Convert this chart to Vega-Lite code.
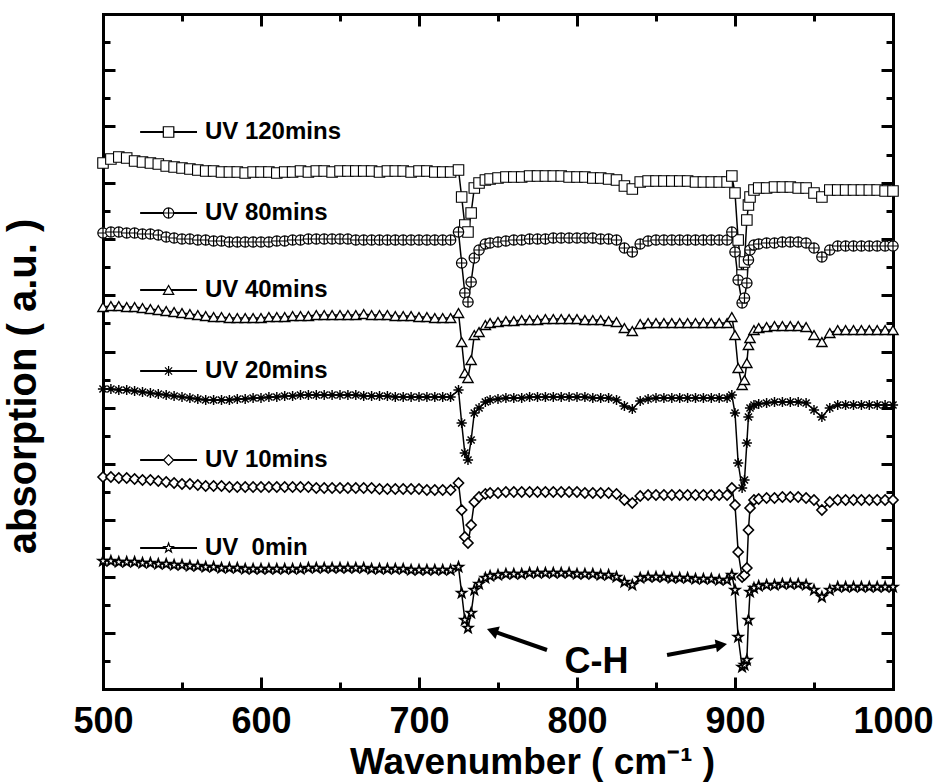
{
"$schema":"https://vega.github.io/schema/vega-lite/v6.json",
"width":790,"height":675,"autosize":"none",
"padding":{"left":103,"top":14,"right":44,"bottom":95},
"background":"white",
"config":{"view":{"stroke":null},"font":"Liberation Sans"},
"datasets":{
"spec":[
{"s":"UV 120mins","x":500,"y":526},{"s":"UV 120mins","x":505,"y":530},{"s":"UV 120mins","x":510,"y":532},{"s":"UV 120mins","x":515,"y":531},{"s":"UV 120mins","x":520,"y":528},{"s":"UV 120mins","x":525,"y":527},{"s":"UV 120mins","x":530,"y":526},{"s":"UV 120mins","x":535,"y":525},{"s":"UV 120mins","x":540,"y":523},{"s":"UV 120mins","x":545,"y":522},{"s":"UV 120mins","x":550,"y":521},{"s":"UV 120mins","x":555,"y":520},{"s":"UV 120mins","x":560,"y":519},{"s":"UV 120mins","x":565,"y":518},{"s":"UV 120mins","x":570,"y":518},{"s":"UV 120mins","x":575,"y":517},{"s":"UV 120mins","x":580,"y":517},{"s":"UV 120mins","x":585,"y":517},{"s":"UV 120mins","x":590,"y":516},{"s":"UV 120mins","x":595,"y":517},{"s":"UV 120mins","x":600,"y":517},{"s":"UV 120mins","x":605,"y":517},{"s":"UV 120mins","x":610,"y":516},{"s":"UV 120mins","x":615,"y":517},{"s":"UV 120mins","x":620,"y":517},{"s":"UV 120mins","x":625,"y":518},{"s":"UV 120mins","x":630,"y":517},{"s":"UV 120mins","x":635,"y":518},{"s":"UV 120mins","x":640,"y":518},{"s":"UV 120mins","x":645,"y":517},{"s":"UV 120mins","x":650,"y":518},{"s":"UV 120mins","x":655,"y":518},{"s":"UV 120mins","x":660,"y":518},{"s":"UV 120mins","x":665,"y":518},{"s":"UV 120mins","x":670,"y":518},{"s":"UV 120mins","x":675,"y":517},{"s":"UV 120mins","x":680,"y":518},{"s":"UV 120mins","x":685,"y":518},{"s":"UV 120mins","x":690,"y":518},{"s":"UV 120mins","x":695,"y":517},{"s":"UV 120mins","x":700,"y":518},{"s":"UV 120mins","x":705,"y":518},{"s":"UV 120mins","x":710,"y":517},{"s":"UV 120mins","x":715,"y":517},{"s":"UV 120mins","x":720,"y":517},
{"s":"UV 120mins","x":725,"y":519},{"s":"UV 120mins","x":727,"y":492},{"s":"UV 120mins","x":729,"y":464},{"s":"UV 120mins","x":731,"y":457},{"s":"UV 120mins","x":733,"y":476},{"s":"UV 120mins","x":735,"y":501},{"s":"UV 120mins","x":738,"y":506},{"s":"UV 120mins","x":742,"y":509},
{"s":"UV 120mins","x":745,"y":510},{"s":"UV 120mins","x":750,"y":511},{"s":"UV 120mins","x":755,"y":512},{"s":"UV 120mins","x":760,"y":512},{"s":"UV 120mins","x":765,"y":512},{"s":"UV 120mins","x":770,"y":513},{"s":"UV 120mins","x":775,"y":513},{"s":"UV 120mins","x":780,"y":513},{"s":"UV 120mins","x":785,"y":513},{"s":"UV 120mins","x":790,"y":513},{"s":"UV 120mins","x":795,"y":512},{"s":"UV 120mins","x":800,"y":512},{"s":"UV 120mins","x":805,"y":512},{"s":"UV 120mins","x":810,"y":511},{"s":"UV 120mins","x":815,"y":511},{"s":"UV 120mins","x":820,"y":510},{"s":"UV 120mins","x":825,"y":509},{"s":"UV 120mins","x":830,"y":503},{"s":"UV 120mins","x":835,"y":500},{"s":"UV 120mins","x":840,"y":507},{"s":"UV 120mins","x":845,"y":508},{"s":"UV 120mins","x":850,"y":508},{"s":"UV 120mins","x":855,"y":508},{"s":"UV 120mins","x":860,"y":508},{"s":"UV 120mins","x":865,"y":508},{"s":"UV 120mins","x":870,"y":508},{"s":"UV 120mins","x":875,"y":507},{"s":"UV 120mins","x":880,"y":507},{"s":"UV 120mins","x":885,"y":507},{"s":"UV 120mins","x":890,"y":507},{"s":"UV 120mins","x":895,"y":507},
{"s":"UV 120mins","x":898,"y":513},{"s":"UV 120mins","x":900,"y":496},{"s":"UV 120mins","x":902,"y":449},{"s":"UV 120mins","x":904.5,"y":414},{"s":"UV 120mins","x":906,"y":427},{"s":"UV 120mins","x":907.5,"y":469},{"s":"UV 120mins","x":908.5,"y":484},{"s":"UV 120mins","x":909.5,"y":492},{"s":"UV 120mins","x":912,"y":499},
{"s":"UV 120mins","x":915,"y":501},{"s":"UV 120mins","x":920,"y":501},{"s":"UV 120mins","x":925,"y":502},{"s":"UV 120mins","x":930,"y":502},{"s":"UV 120mins","x":935,"y":502},{"s":"UV 120mins","x":940,"y":501},{"s":"UV 120mins","x":945,"y":501},{"s":"UV 120mins","x":950,"y":496},{"s":"UV 120mins","x":955,"y":492},{"s":"UV 120mins","x":960,"y":499},{"s":"UV 120mins","x":965,"y":499},{"s":"UV 120mins","x":970,"y":499},{"s":"UV 120mins","x":975,"y":499},{"s":"UV 120mins","x":980,"y":499},{"s":"UV 120mins","x":985,"y":499},{"s":"UV 120mins","x":990,"y":499},{"s":"UV 120mins","x":995,"y":498},{"s":"UV 120mins","x":1000,"y":498},

{"s":"UV 80mins","x":500,"y":456},{"s":"UV 80mins","x":505,"y":457},{"s":"UV 80mins","x":510,"y":457},{"s":"UV 80mins","x":515,"y":456},{"s":"UV 80mins","x":520,"y":456},{"s":"UV 80mins","x":525,"y":455},{"s":"UV 80mins","x":530,"y":455},{"s":"UV 80mins","x":535,"y":454},{"s":"UV 80mins","x":540,"y":452},{"s":"UV 80mins","x":545,"y":451},{"s":"UV 80mins","x":550,"y":450},{"s":"UV 80mins","x":555,"y":450},{"s":"UV 80mins","x":560,"y":449},{"s":"UV 80mins","x":565,"y":449},{"s":"UV 80mins","x":570,"y":448},{"s":"UV 80mins","x":575,"y":448},{"s":"UV 80mins","x":580,"y":447},{"s":"UV 80mins","x":585,"y":447},{"s":"UV 80mins","x":590,"y":447},{"s":"UV 80mins","x":595,"y":447},{"s":"UV 80mins","x":600,"y":447},{"s":"UV 80mins","x":605,"y":447},{"s":"UV 80mins","x":610,"y":448},{"s":"UV 80mins","x":615,"y":448},{"s":"UV 80mins","x":620,"y":449},{"s":"UV 80mins","x":625,"y":449},{"s":"UV 80mins","x":630,"y":450},{"s":"UV 80mins","x":635,"y":450},{"s":"UV 80mins","x":640,"y":450},{"s":"UV 80mins","x":645,"y":450},{"s":"UV 80mins","x":650,"y":450},{"s":"UV 80mins","x":655,"y":450},{"s":"UV 80mins","x":660,"y":449},{"s":"UV 80mins","x":665,"y":449},{"s":"UV 80mins","x":670,"y":449},{"s":"UV 80mins","x":675,"y":449},{"s":"UV 80mins","x":680,"y":449},{"s":"UV 80mins","x":685,"y":449},{"s":"UV 80mins","x":690,"y":449},{"s":"UV 80mins","x":695,"y":449},{"s":"UV 80mins","x":700,"y":449},{"s":"UV 80mins","x":705,"y":449},{"s":"UV 80mins","x":710,"y":449},{"s":"UV 80mins","x":715,"y":449},{"s":"UV 80mins","x":720,"y":449},
{"s":"UV 80mins","x":725,"y":457},{"s":"UV 80mins","x":727,"y":426},{"s":"UV 80mins","x":729,"y":396},{"s":"UV 80mins","x":731,"y":387},{"s":"UV 80mins","x":733,"y":407},{"s":"UV 80mins","x":735,"y":431},{"s":"UV 80mins","x":738,"y":439},{"s":"UV 80mins","x":742,"y":445},
{"s":"UV 80mins","x":745,"y":446},{"s":"UV 80mins","x":750,"y":447},{"s":"UV 80mins","x":755,"y":448},{"s":"UV 80mins","x":760,"y":449},{"s":"UV 80mins","x":765,"y":449},{"s":"UV 80mins","x":770,"y":450},{"s":"UV 80mins","x":775,"y":450},{"s":"UV 80mins","x":780,"y":450},{"s":"UV 80mins","x":785,"y":451},{"s":"UV 80mins","x":790,"y":451},{"s":"UV 80mins","x":795,"y":451},{"s":"UV 80mins","x":800,"y":451},{"s":"UV 80mins","x":805,"y":451},{"s":"UV 80mins","x":810,"y":451},{"s":"UV 80mins","x":815,"y":450},{"s":"UV 80mins","x":820,"y":450},{"s":"UV 80mins","x":825,"y":449},{"s":"UV 80mins","x":830,"y":441},{"s":"UV 80mins","x":835,"y":437},{"s":"UV 80mins","x":840,"y":445},{"s":"UV 80mins","x":845,"y":448},{"s":"UV 80mins","x":850,"y":449},{"s":"UV 80mins","x":855,"y":449},{"s":"UV 80mins","x":860,"y":449},{"s":"UV 80mins","x":865,"y":449},{"s":"UV 80mins","x":870,"y":449},{"s":"UV 80mins","x":875,"y":449},{"s":"UV 80mins","x":880,"y":449},{"s":"UV 80mins","x":885,"y":449},{"s":"UV 80mins","x":890,"y":449},{"s":"UV 80mins","x":895,"y":449},
{"s":"UV 80mins","x":898,"y":457},{"s":"UV 80mins","x":900,"y":437},{"s":"UV 80mins","x":902,"y":409},{"s":"UV 80mins","x":904.5,"y":386},{"s":"UV 80mins","x":906,"y":391},{"s":"UV 80mins","x":907.5,"y":406},{"s":"UV 80mins","x":908.5,"y":429},{"s":"UV 80mins","x":909.5,"y":439},{"s":"UV 80mins","x":912,"y":444},
{"s":"UV 80mins","x":915,"y":445},{"s":"UV 80mins","x":920,"y":446},{"s":"UV 80mins","x":925,"y":446},{"s":"UV 80mins","x":930,"y":447},{"s":"UV 80mins","x":935,"y":447},{"s":"UV 80mins","x":940,"y":447},{"s":"UV 80mins","x":945,"y":446},{"s":"UV 80mins","x":950,"y":441},{"s":"UV 80mins","x":955,"y":432},{"s":"UV 80mins","x":960,"y":439},{"s":"UV 80mins","x":965,"y":443},{"s":"UV 80mins","x":970,"y":443},{"s":"UV 80mins","x":975,"y":443},{"s":"UV 80mins","x":980,"y":443},{"s":"UV 80mins","x":985,"y":443},{"s":"UV 80mins","x":990,"y":443},{"s":"UV 80mins","x":995,"y":443},{"s":"UV 80mins","x":1000,"y":443},

{"s":"UV 40mins","x":500,"y":382},{"s":"UV 40mins","x":505,"y":383},{"s":"UV 40mins","x":510,"y":383},{"s":"UV 40mins","x":515,"y":382},{"s":"UV 40mins","x":520,"y":382},{"s":"UV 40mins","x":525,"y":381},{"s":"UV 40mins","x":530,"y":380},{"s":"UV 40mins","x":535,"y":379},{"s":"UV 40mins","x":540,"y":378},{"s":"UV 40mins","x":545,"y":377},{"s":"UV 40mins","x":550,"y":376},{"s":"UV 40mins","x":555,"y":375},{"s":"UV 40mins","x":560,"y":374},{"s":"UV 40mins","x":565,"y":373},{"s":"UV 40mins","x":570,"y":372},{"s":"UV 40mins","x":575,"y":372},{"s":"UV 40mins","x":580,"y":371},{"s":"UV 40mins","x":585,"y":371},{"s":"UV 40mins","x":590,"y":371},{"s":"UV 40mins","x":595,"y":371},{"s":"UV 40mins","x":600,"y":371},{"s":"UV 40mins","x":605,"y":372},{"s":"UV 40mins","x":610,"y":372},{"s":"UV 40mins","x":615,"y":372},{"s":"UV 40mins","x":620,"y":373},{"s":"UV 40mins","x":625,"y":373},{"s":"UV 40mins","x":630,"y":373},{"s":"UV 40mins","x":635,"y":374},{"s":"UV 40mins","x":640,"y":374},{"s":"UV 40mins","x":645,"y":374},{"s":"UV 40mins","x":650,"y":374},{"s":"UV 40mins","x":655,"y":374},{"s":"UV 40mins","x":660,"y":374},{"s":"UV 40mins","x":665,"y":375},{"s":"UV 40mins","x":670,"y":374},{"s":"UV 40mins","x":675,"y":374},{"s":"UV 40mins","x":680,"y":374},{"s":"UV 40mins","x":685,"y":373},{"s":"UV 40mins","x":690,"y":373},{"s":"UV 40mins","x":695,"y":373},{"s":"UV 40mins","x":700,"y":372},{"s":"UV 40mins","x":705,"y":372},{"s":"UV 40mins","x":710,"y":371},{"s":"UV 40mins","x":715,"y":371},{"s":"UV 40mins","x":720,"y":371},
{"s":"UV 40mins","x":725,"y":376},{"s":"UV 40mins","x":727,"y":347},{"s":"UV 40mins","x":729,"y":316},{"s":"UV 40mins","x":731,"y":311},{"s":"UV 40mins","x":733,"y":329},{"s":"UV 40mins","x":735,"y":354},{"s":"UV 40mins","x":738,"y":357},{"s":"UV 40mins","x":742,"y":364},
{"s":"UV 40mins","x":745,"y":366},{"s":"UV 40mins","x":750,"y":367},{"s":"UV 40mins","x":755,"y":368},{"s":"UV 40mins","x":760,"y":368},{"s":"UV 40mins","x":765,"y":369},{"s":"UV 40mins","x":770,"y":369},{"s":"UV 40mins","x":775,"y":369},{"s":"UV 40mins","x":780,"y":370},{"s":"UV 40mins","x":785,"y":370},{"s":"UV 40mins","x":790,"y":370},{"s":"UV 40mins","x":795,"y":370},{"s":"UV 40mins","x":800,"y":370},{"s":"UV 40mins","x":805,"y":369},{"s":"UV 40mins","x":810,"y":369},{"s":"UV 40mins","x":815,"y":369},{"s":"UV 40mins","x":820,"y":368},{"s":"UV 40mins","x":825,"y":367},{"s":"UV 40mins","x":830,"y":361},{"s":"UV 40mins","x":835,"y":358},{"s":"UV 40mins","x":840,"y":365},{"s":"UV 40mins","x":845,"y":366},{"s":"UV 40mins","x":850,"y":366},{"s":"UV 40mins","x":855,"y":366},{"s":"UV 40mins","x":860,"y":366},{"s":"UV 40mins","x":865,"y":366},{"s":"UV 40mins","x":870,"y":366},{"s":"UV 40mins","x":875,"y":366},{"s":"UV 40mins","x":880,"y":366},{"s":"UV 40mins","x":885,"y":366},{"s":"UV 40mins","x":890,"y":366},{"s":"UV 40mins","x":895,"y":366},
{"s":"UV 40mins","x":898,"y":372},{"s":"UV 40mins","x":900,"y":354},{"s":"UV 40mins","x":902,"y":321},{"s":"UV 40mins","x":904.5,"y":304},{"s":"UV 40mins","x":906,"y":309},{"s":"UV 40mins","x":907.5,"y":326},{"s":"UV 40mins","x":908.5,"y":344},{"s":"UV 40mins","x":909.5,"y":351},{"s":"UV 40mins","x":912,"y":359},
{"s":"UV 40mins","x":915,"y":361},{"s":"UV 40mins","x":920,"y":362},{"s":"UV 40mins","x":925,"y":363},{"s":"UV 40mins","x":930,"y":363},{"s":"UV 40mins","x":935,"y":363},{"s":"UV 40mins","x":940,"y":363},{"s":"UV 40mins","x":945,"y":362},{"s":"UV 40mins","x":950,"y":354},{"s":"UV 40mins","x":955,"y":347},{"s":"UV 40mins","x":960,"y":356},{"s":"UV 40mins","x":965,"y":359},{"s":"UV 40mins","x":970,"y":359},{"s":"UV 40mins","x":975,"y":359},{"s":"UV 40mins","x":980,"y":359},{"s":"UV 40mins","x":985,"y":359},{"s":"UV 40mins","x":990,"y":359},{"s":"UV 40mins","x":995,"y":359},{"s":"UV 40mins","x":1000,"y":359},

{"s":"UV 20mins","x":500,"y":300},{"s":"UV 20mins","x":505,"y":300},{"s":"UV 20mins","x":510,"y":299},{"s":"UV 20mins","x":515,"y":299},{"s":"UV 20mins","x":520,"y":298},{"s":"UV 20mins","x":525,"y":297},{"s":"UV 20mins","x":530,"y":296},{"s":"UV 20mins","x":535,"y":295},{"s":"UV 20mins","x":540,"y":294},{"s":"UV 20mins","x":545,"y":293},{"s":"UV 20mins","x":550,"y":292},{"s":"UV 20mins","x":555,"y":291},{"s":"UV 20mins","x":560,"y":290},{"s":"UV 20mins","x":565,"y":289},{"s":"UV 20mins","x":570,"y":289},{"s":"UV 20mins","x":575,"y":289},{"s":"UV 20mins","x":580,"y":289},{"s":"UV 20mins","x":585,"y":290},{"s":"UV 20mins","x":590,"y":290},{"s":"UV 20mins","x":595,"y":291},{"s":"UV 20mins","x":600,"y":291},{"s":"UV 20mins","x":605,"y":292},{"s":"UV 20mins","x":610,"y":292},{"s":"UV 20mins","x":615,"y":293},{"s":"UV 20mins","x":620,"y":293},{"s":"UV 20mins","x":625,"y":294},{"s":"UV 20mins","x":630,"y":294},{"s":"UV 20mins","x":635,"y":294},{"s":"UV 20mins","x":640,"y":294},{"s":"UV 20mins","x":645,"y":294},{"s":"UV 20mins","x":650,"y":294},{"s":"UV 20mins","x":655,"y":294},{"s":"UV 20mins","x":660,"y":294},{"s":"UV 20mins","x":665,"y":293},{"s":"UV 20mins","x":670,"y":293},{"s":"UV 20mins","x":675,"y":293},{"s":"UV 20mins","x":680,"y":293},{"s":"UV 20mins","x":685,"y":292},{"s":"UV 20mins","x":690,"y":292},{"s":"UV 20mins","x":695,"y":292},{"s":"UV 20mins","x":700,"y":292},{"s":"UV 20mins","x":705,"y":292},{"s":"UV 20mins","x":710,"y":292},{"s":"UV 20mins","x":715,"y":292},{"s":"UV 20mins","x":720,"y":292},
{"s":"UV 20mins","x":725,"y":299},{"s":"UV 20mins","x":727,"y":266},{"s":"UV 20mins","x":729,"y":236},{"s":"UV 20mins","x":731,"y":229},{"s":"UV 20mins","x":733,"y":249},{"s":"UV 20mins","x":735,"y":276},{"s":"UV 20mins","x":738,"y":281},{"s":"UV 20mins","x":742,"y":287},
{"s":"UV 20mins","x":745,"y":289},{"s":"UV 20mins","x":750,"y":290},{"s":"UV 20mins","x":755,"y":291},{"s":"UV 20mins","x":760,"y":291},{"s":"UV 20mins","x":765,"y":291},{"s":"UV 20mins","x":770,"y":292},{"s":"UV 20mins","x":775,"y":292},{"s":"UV 20mins","x":780,"y":292},{"s":"UV 20mins","x":785,"y":292},{"s":"UV 20mins","x":790,"y":292},{"s":"UV 20mins","x":795,"y":292},{"s":"UV 20mins","x":800,"y":292},{"s":"UV 20mins","x":805,"y":292},{"s":"UV 20mins","x":810,"y":291},{"s":"UV 20mins","x":815,"y":291},{"s":"UV 20mins","x":820,"y":291},{"s":"UV 20mins","x":825,"y":289},{"s":"UV 20mins","x":830,"y":283},{"s":"UV 20mins","x":835,"y":280},{"s":"UV 20mins","x":840,"y":288},{"s":"UV 20mins","x":845,"y":290},{"s":"UV 20mins","x":850,"y":291},{"s":"UV 20mins","x":855,"y":291},{"s":"UV 20mins","x":860,"y":291},{"s":"UV 20mins","x":865,"y":291},{"s":"UV 20mins","x":870,"y":291},{"s":"UV 20mins","x":875,"y":291},{"s":"UV 20mins","x":880,"y":291},{"s":"UV 20mins","x":885,"y":291},{"s":"UV 20mins","x":890,"y":291},{"s":"UV 20mins","x":895,"y":291},
{"s":"UV 20mins","x":898,"y":294},{"s":"UV 20mins","x":900,"y":276},{"s":"UV 20mins","x":902,"y":226},{"s":"UV 20mins","x":904.5,"y":201},{"s":"UV 20mins","x":906,"y":209},{"s":"UV 20mins","x":907.5,"y":246},{"s":"UV 20mins","x":908.5,"y":272},{"s":"UV 20mins","x":909.5,"y":281},{"s":"UV 20mins","x":912,"y":284},
{"s":"UV 20mins","x":915,"y":285},{"s":"UV 20mins","x":920,"y":286},{"s":"UV 20mins","x":925,"y":287},{"s":"UV 20mins","x":930,"y":287},{"s":"UV 20mins","x":935,"y":287},{"s":"UV 20mins","x":940,"y":287},{"s":"UV 20mins","x":945,"y":286},{"s":"UV 20mins","x":950,"y":279},{"s":"UV 20mins","x":955,"y":272},{"s":"UV 20mins","x":960,"y":281},{"s":"UV 20mins","x":965,"y":284},{"s":"UV 20mins","x":970,"y":284},{"s":"UV 20mins","x":975,"y":284},{"s":"UV 20mins","x":980,"y":284},{"s":"UV 20mins","x":985,"y":284},{"s":"UV 20mins","x":990,"y":284},{"s":"UV 20mins","x":995,"y":284},{"s":"UV 20mins","x":1000,"y":284},

{"s":"UV 10mins","x":500,"y":212},{"s":"UV 10mins","x":505,"y":212},{"s":"UV 10mins","x":510,"y":211},{"s":"UV 10mins","x":515,"y":211},{"s":"UV 10mins","x":520,"y":210},{"s":"UV 10mins","x":525,"y":209},{"s":"UV 10mins","x":530,"y":209},{"s":"UV 10mins","x":535,"y":208},{"s":"UV 10mins","x":540,"y":207},{"s":"UV 10mins","x":545,"y":206},{"s":"UV 10mins","x":550,"y":205},{"s":"UV 10mins","x":555,"y":205},{"s":"UV 10mins","x":560,"y":204},{"s":"UV 10mins","x":565,"y":203},{"s":"UV 10mins","x":570,"y":203},{"s":"UV 10mins","x":575,"y":203},{"s":"UV 10mins","x":580,"y":202},{"s":"UV 10mins","x":585,"y":202},{"s":"UV 10mins","x":590,"y":202},{"s":"UV 10mins","x":595,"y":202},{"s":"UV 10mins","x":600,"y":202},{"s":"UV 10mins","x":605,"y":202},{"s":"UV 10mins","x":610,"y":202},{"s":"UV 10mins","x":615,"y":202},{"s":"UV 10mins","x":620,"y":202},{"s":"UV 10mins","x":625,"y":202},{"s":"UV 10mins","x":630,"y":202},{"s":"UV 10mins","x":635,"y":201},{"s":"UV 10mins","x":640,"y":201},{"s":"UV 10mins","x":645,"y":201},{"s":"UV 10mins","x":650,"y":201},{"s":"UV 10mins","x":655,"y":201},{"s":"UV 10mins","x":660,"y":201},{"s":"UV 10mins","x":665,"y":201},{"s":"UV 10mins","x":670,"y":201},{"s":"UV 10mins","x":675,"y":200},{"s":"UV 10mins","x":680,"y":200},{"s":"UV 10mins","x":685,"y":200},{"s":"UV 10mins","x":690,"y":200},{"s":"UV 10mins","x":695,"y":200},{"s":"UV 10mins","x":700,"y":200},{"s":"UV 10mins","x":705,"y":199},{"s":"UV 10mins","x":710,"y":199},{"s":"UV 10mins","x":715,"y":199},{"s":"UV 10mins","x":720,"y":199},
{"s":"UV 10mins","x":725,"y":206},{"s":"UV 10mins","x":727,"y":179},{"s":"UV 10mins","x":729,"y":152},{"s":"UV 10mins","x":731,"y":146},{"s":"UV 10mins","x":733,"y":164},{"s":"UV 10mins","x":735,"y":187},{"s":"UV 10mins","x":738,"y":192},{"s":"UV 10mins","x":742,"y":195},
{"s":"UV 10mins","x":745,"y":196},{"s":"UV 10mins","x":750,"y":196},{"s":"UV 10mins","x":755,"y":197},{"s":"UV 10mins","x":760,"y":197},{"s":"UV 10mins","x":765,"y":197},{"s":"UV 10mins","x":770,"y":197},{"s":"UV 10mins","x":775,"y":197},{"s":"UV 10mins","x":780,"y":197},{"s":"UV 10mins","x":785,"y":197},{"s":"UV 10mins","x":790,"y":197},{"s":"UV 10mins","x":795,"y":197},{"s":"UV 10mins","x":800,"y":197},{"s":"UV 10mins","x":805,"y":196},{"s":"UV 10mins","x":810,"y":196},{"s":"UV 10mins","x":815,"y":196},{"s":"UV 10mins","x":820,"y":196},{"s":"UV 10mins","x":825,"y":195},{"s":"UV 10mins","x":830,"y":189},{"s":"UV 10mins","x":835,"y":186},{"s":"UV 10mins","x":840,"y":193},{"s":"UV 10mins","x":845,"y":194},{"s":"UV 10mins","x":850,"y":194},{"s":"UV 10mins","x":855,"y":194},{"s":"UV 10mins","x":860,"y":194},{"s":"UV 10mins","x":865,"y":194},{"s":"UV 10mins","x":870,"y":194},{"s":"UV 10mins","x":875,"y":194},{"s":"UV 10mins","x":880,"y":194},{"s":"UV 10mins","x":885,"y":194},{"s":"UV 10mins","x":890,"y":194},{"s":"UV 10mins","x":895,"y":194},
{"s":"UV 10mins","x":898,"y":201},{"s":"UV 10mins","x":900,"y":184},{"s":"UV 10mins","x":902,"y":137},{"s":"UV 10mins","x":904.5,"y":112},{"s":"UV 10mins","x":906,"y":114},{"s":"UV 10mins","x":907.5,"y":121},{"s":"UV 10mins","x":908.5,"y":159},{"s":"UV 10mins","x":909.5,"y":181},{"s":"UV 10mins","x":912,"y":189},
{"s":"UV 10mins","x":915,"y":190},{"s":"UV 10mins","x":920,"y":191},{"s":"UV 10mins","x":925,"y":191},{"s":"UV 10mins","x":930,"y":192},{"s":"UV 10mins","x":935,"y":192},{"s":"UV 10mins","x":940,"y":192},{"s":"UV 10mins","x":945,"y":191},{"s":"UV 10mins","x":950,"y":189},{"s":"UV 10mins","x":955,"y":179},{"s":"UV 10mins","x":960,"y":187},{"s":"UV 10mins","x":965,"y":189},{"s":"UV 10mins","x":970,"y":189},{"s":"UV 10mins","x":975,"y":189},{"s":"UV 10mins","x":980,"y":189},{"s":"UV 10mins","x":985,"y":189},{"s":"UV 10mins","x":990,"y":189},{"s":"UV 10mins","x":995,"y":189},{"s":"UV 10mins","x":1000,"y":189},

{"s":"UV 0min","x":500,"y":128},{"s":"UV 0min","x":505,"y":128},{"s":"UV 0min","x":510,"y":127},{"s":"UV 0min","x":515,"y":127},{"s":"UV 0min","x":520,"y":127},{"s":"UV 0min","x":525,"y":126},{"s":"UV 0min","x":530,"y":126},{"s":"UV 0min","x":535,"y":125},{"s":"UV 0min","x":540,"y":125},{"s":"UV 0min","x":545,"y":124},{"s":"UV 0min","x":550,"y":124},{"s":"UV 0min","x":555,"y":123},{"s":"UV 0min","x":560,"y":123},{"s":"UV 0min","x":565,"y":122},{"s":"UV 0min","x":570,"y":122},{"s":"UV 0min","x":575,"y":121},{"s":"UV 0min","x":580,"y":121},{"s":"UV 0min","x":585,"y":121},{"s":"UV 0min","x":590,"y":120},{"s":"UV 0min","x":595,"y":120},{"s":"UV 0min","x":600,"y":120},{"s":"UV 0min","x":605,"y":120},{"s":"UV 0min","x":610,"y":120},{"s":"UV 0min","x":615,"y":120},{"s":"UV 0min","x":620,"y":120},{"s":"UV 0min","x":625,"y":120},{"s":"UV 0min","x":630,"y":121},{"s":"UV 0min","x":635,"y":121},{"s":"UV 0min","x":640,"y":121},{"s":"UV 0min","x":645,"y":121},{"s":"UV 0min","x":650,"y":121},{"s":"UV 0min","x":655,"y":121},{"s":"UV 0min","x":660,"y":121},{"s":"UV 0min","x":665,"y":121},{"s":"UV 0min","x":670,"y":120},{"s":"UV 0min","x":675,"y":120},{"s":"UV 0min","x":680,"y":120},{"s":"UV 0min","x":685,"y":120},{"s":"UV 0min","x":690,"y":120},{"s":"UV 0min","x":695,"y":119},{"s":"UV 0min","x":700,"y":119},{"s":"UV 0min","x":705,"y":119},{"s":"UV 0min","x":710,"y":119},{"s":"UV 0min","x":715,"y":119},{"s":"UV 0min","x":720,"y":119},
{"s":"UV 0min","x":725,"y":122},{"s":"UV 0min","x":727,"y":96},{"s":"UV 0min","x":729,"y":69},{"s":"UV 0min","x":731,"y":61},{"s":"UV 0min","x":733,"y":76},{"s":"UV 0min","x":735,"y":99},{"s":"UV 0min","x":738,"y":105},{"s":"UV 0min","x":742,"y":111},
{"s":"UV 0min","x":745,"y":113},{"s":"UV 0min","x":750,"y":114},{"s":"UV 0min","x":755,"y":115},{"s":"UV 0min","x":760,"y":115},{"s":"UV 0min","x":765,"y":115},{"s":"UV 0min","x":770,"y":116},{"s":"UV 0min","x":775,"y":116},{"s":"UV 0min","x":780,"y":116},{"s":"UV 0min","x":785,"y":116},{"s":"UV 0min","x":790,"y":116},{"s":"UV 0min","x":795,"y":116},{"s":"UV 0min","x":800,"y":115},{"s":"UV 0min","x":805,"y":115},{"s":"UV 0min","x":810,"y":115},{"s":"UV 0min","x":815,"y":114},{"s":"UV 0min","x":820,"y":114},{"s":"UV 0min","x":825,"y":112},{"s":"UV 0min","x":830,"y":107},{"s":"UV 0min","x":835,"y":104},{"s":"UV 0min","x":840,"y":111},{"s":"UV 0min","x":845,"y":112},{"s":"UV 0min","x":850,"y":112},{"s":"UV 0min","x":855,"y":112},{"s":"UV 0min","x":860,"y":111},{"s":"UV 0min","x":865,"y":111},{"s":"UV 0min","x":870,"y":111},{"s":"UV 0min","x":875,"y":110},{"s":"UV 0min","x":880,"y":110},{"s":"UV 0min","x":885,"y":110},{"s":"UV 0min","x":890,"y":109},{"s":"UV 0min","x":895,"y":109},
{"s":"UV 0min","x":898,"y":114},{"s":"UV 0min","x":900,"y":99},{"s":"UV 0min","x":902,"y":52},{"s":"UV 0min","x":904.5,"y":22},{"s":"UV 0min","x":906,"y":24},{"s":"UV 0min","x":907.5,"y":29},{"s":"UV 0min","x":908.5,"y":69},{"s":"UV 0min","x":909.5,"y":97},{"s":"UV 0min","x":912,"y":101},
{"s":"UV 0min","x":915,"y":103},{"s":"UV 0min","x":920,"y":104},{"s":"UV 0min","x":925,"y":104},{"s":"UV 0min","x":930,"y":105},{"s":"UV 0min","x":935,"y":105},{"s":"UV 0min","x":940,"y":105},{"s":"UV 0min","x":945,"y":104},{"s":"UV 0min","x":950,"y":99},{"s":"UV 0min","x":955,"y":92},{"s":"UV 0min","x":960,"y":99},{"s":"UV 0min","x":965,"y":102},{"s":"UV 0min","x":970,"y":102},{"s":"UV 0min","x":975,"y":102},{"s":"UV 0min","x":980,"y":102},{"s":"UV 0min","x":985,"y":102},{"s":"UV 0min","x":990,"y":102},{"s":"UV 0min","x":995,"y":102},{"s":"UV 0min","x":1000,"y":102}
],
"leg":[
{"s":"UV 120mins","label":"UV 120mins","y":557},
{"s":"UV 80mins","label":"UV 80mins","y":476},
{"s":"UV 40mins","label":"UV 40mins","y":399},
{"s":"UV 20mins","label":"UV 20mins","y":318},
{"s":"UV 10mins","label":"UV 10mins","y":229},
{"s":"UV 0min","label":"UV\u00a0 0min","y":141}
]
},
"layer":[
{"data":{"name":"spec"},
 "mark":{"type":"line","color":"black","strokeWidth":1.5},
 "encoding":{
  "x":{"field":"x","type":"quantitative","scale":{"domain":[500,1000],"nice":false,"zero":false},
   "axis":{"orient":"bottom","values":[500,550,600,650,700,750,800,850,900,950,1000],"format":"d",
    "labelExpr":"datum.value % 100 === 0 ? datum.label : ''",
    "tickSize":{"condition":{"test":"datum.value % 100 === 0","value":-12},"value":-7},
    "tickWidth":3,"tickColor":"black","domainColor":"black","domainWidth":3,"domainCap":"square","grid":false,
    "labelFont":"Liberation Sans","labelFontSize":36,"labelFontWeight":"bold","labelColor":"black","labelPadding":27,"labelFlush":false,"labelOverlap":false,
    "title":"Wavenumber ( cm⁻¹ )","titleFont":"Liberation Sans","titleFontSize":37,"titleFontWeight":"bold","titleColor":"black","titlePadding":0,"titleX":429,"titleAlign":"center"}},
  "y":{"field":"y","type":"quantitative","scale":{"domain":[0,675],"nice":false,"zero":false},
   "axis":{"orient":"left","values":[0,28.125,56.25,84.375,112.5,140.625,168.75,196.875,225,253.125,281.25,309.375,337.5,365.625,393.75,421.875,450,478.125,506.25,534.375,562.5,590.625,618.75,646.875,675],
    "labels":false,
    "tickSize":{"condition":{"test":"datum.value % 56.25 === 0","value":-12},"value":-7},
    "tickWidth":3,"tickColor":"black","domainColor":"black","domainWidth":3,"domainCap":"square","grid":false,
    "title":"absorption ( a.u. )","titleFont":"Liberation Sans","titleFontSize":40,"titleFontWeight":"bold","titleColor":"black","titlePadding":58,"titleY":372,"titleAlign":"center"}},
  "detail":{"field":"s"}
 }},
{"data":{"name":"spec"},
 "mark":{"type":"point","filled":true,"fill":"white","fillOpacity":1,"stroke":"black","opacity":1},
 "encoding":{
  "x":{"field":"x","type":"quantitative","axis":null},
  "y":{"field":"y","type":"quantitative","axis":null},
  "shape":{"field":"s","type":"nominal","legend":null,"scale":{"domain":["UV 120mins","UV 80mins","UV 40mins","UV 20mins","UV 10mins","UV 0min"],
   "range":["square","M-1,0A1,1,0,1,1,1,0A1,1,0,1,1,-1,0ZM-1,0L1,0M0,-1L0,1","triangle-up","M-1,0L1,0M0,-1L0,1M-0.7,-0.7L0.7,0.7M-0.7,0.7L0.7,-0.7","diamond","M0,-1L0.235,-0.324L0.951,-0.309L0.38,0.124L0.588,0.809L0,0.4L-0.588,0.809L-0.38,0.124L-0.951,-0.309L-0.235,-0.324Z"]}},
  "size":{"field":"s","type":"ordinal","legend":null,"scale":{"domain":["UV 120mins","UV 80mins","UV 40mins","UV 20mins","UV 10mins","UV 0min"],"range":[110,100,200,196,256,196]}},
  "strokeWidth":{"field":"s","type":"ordinal","legend":null,"scale":{"domain":["UV 120mins","UV 80mins","UV 40mins","UV 20mins","UV 10mins","UV 0min"],"range":[1.1,1.7,1.1,1.7,1.1,1.5]}}
 }},
{"data":{"name":"leg"},
 "mark":{"type":"rule","color":"black","strokeWidth":2},
 "encoding":{"x":{"datum":523.5,"type":"quantitative","axis":null},"x2":{"datum":559.5},"y":{"field":"y","type":"quantitative","axis":null}}},
{"data":{"name":"leg"},
 "mark":{"type":"point","filled":true,"fill":"white","fillOpacity":1,"stroke":"black","strokeWidth":1.2,"opacity":1},
 "encoding":{"x":{"datum":541.5,"type":"quantitative","axis":null},"y":{"field":"y","type":"quantitative","axis":null},
  "shape":{"field":"s","type":"nominal","legend":null},
  "size":{"field":"s","type":"ordinal","legend":null}}},
{"data":{"name":"leg"},
 "mark":{"type":"text","align":"left","baseline":"middle","font":"Liberation Sans","fontSize":24,"fontWeight":"bold","color":"black"},
 "encoding":{"x":{"datum":564.5,"type":"quantitative","axis":null},"y":{"field":"y","type":"quantitative","axis":null},"text":{"field":"label"}}},
{"data":{"values":[{"t":"C-H"}]},
 "mark":{"type":"text","align":"center","baseline":"alphabetic","font":"Liberation Sans","fontSize":36,"fontWeight":"bold","color":"black"},
 "encoding":{"x":{"datum":812.3,"type":"quantitative","axis":null},"y":{"datum":16,"type":"quantitative","axis":null},"text":{"field":"t"}}},
{"data":{"values":[{}]},
 "mark":{"type":"rule","color":"black","strokeWidth":4},
 "encoding":{"x":{"datum":781,"type":"quantitative","axis":null},"y":{"datum":39,"type":"quantitative","axis":null},"x2":{"datum":746.4},"y2":{"datum":58.1}}},
{"data":{"values":[{}]},
 "mark":{"type":"point","shape":"triangle-up","filled":true,"color":"black","opacity":1,"size":170,"angle":289.3},
 "encoding":{"x":{"datum":746.4,"type":"quantitative","axis":null},"y":{"datum":58.1,"type":"quantitative","axis":null}}},
{"data":{"values":[{}]},
 "mark":{"type":"rule","color":"black","strokeWidth":4},
 "encoding":{"x":{"datum":857,"type":"quantitative","axis":null},"y":{"datum":34,"type":"quantitative","axis":null},"x2":{"datum":891.4},"y2":{"datum":44.1}}},
{"data":{"values":[{}]},
 "mark":{"type":"point","shape":"triangle-up","filled":true,"color":"black","opacity":1,"size":170,"angle":80.5},
 "encoding":{"x":{"datum":891.4,"type":"quantitative","axis":null},"y":{"datum":44.1,"type":"quantitative","axis":null}}},
{"data":{"values":[{}]},
 "mark":{"type":"point","opacity":0},
 "encoding":{
  "x":{"datum":500,"type":"quantitative",
   "axis":{"orient":"top","values":[500,550,600,650,700,750,800,850,900,950,1000],"labels":false,"title":null,
    "tickSize":{"condition":{"test":"datum.value % 100 === 0","value":-12},"value":-7},
    "tickWidth":3,"tickColor":"black","domainColor":"black","domainWidth":3,"domainCap":"square","grid":false}},
  "y":{"datum":0,"type":"quantitative",
   "axis":{"orient":"right","values":[0,28.125,56.25,84.375,112.5,140.625,168.75,196.875,225,253.125,281.25,309.375,337.5,365.625,393.75,421.875,450,478.125,506.25,534.375,562.5,590.625,618.75,646.875,675],"labels":false,"title":null,
    "tickSize":{"condition":{"test":"datum.value % 56.25 === 0","value":-12},"value":-7},
    "tickWidth":3,"tickColor":"black","domainColor":"black","domainWidth":3,"domainCap":"square","grid":false}}
 }}
],
"resolve":{"axis":{"x":"independent","y":"independent"}}
}
